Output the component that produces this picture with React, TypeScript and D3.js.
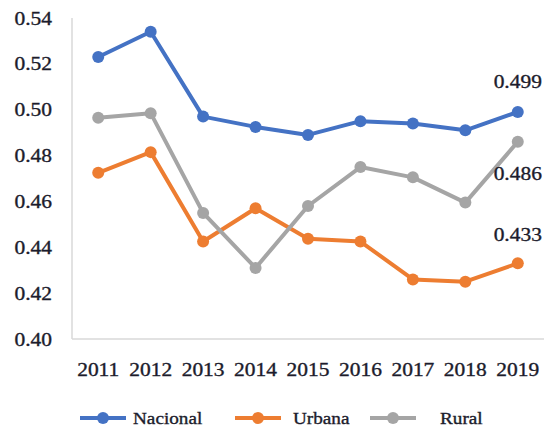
import React from 'react';
import * as d3 from 'd3';

const years = ['2011', '2012', '2013', '2014', '2015', '2016', '2017', '2018', '2019'];
const nacional = [0.523, 0.534, 0.497, 0.4925, 0.489, 0.495, 0.494, 0.491, 0.499];
const urbana = [0.4725, 0.4815, 0.4425, 0.457, 0.4437, 0.4425, 0.426, 0.425, 0.433];
const rural = [0.4965, 0.4985, 0.455, 0.431, 0.458, 0.475, 0.4705, 0.4595, 0.486];
const yTicks = [0.4, 0.42, 0.44, 0.46, 0.48, 0.5, 0.52, 0.54];

const series = [
  { name: 'Nacional', values: nacional, color: '#4472C4', label: '0.499', dy: -31 },
  { name: 'Urbana', values: urbana, color: '#ED7D31', label: '0.433', dy: -29 },
  { name: 'Rural', values: rural, color: '#A5A5A5', label: '0.486', dy: 32 },
];

const W = 544;
const H = 430;
const font = '"Liberation Serif", "Times New Roman", serif';
const textColor = '#1c1c2c';

const App = () => {
  const x = d3.scaleBand<string>().domain(years).range([72, 544]);
  const y = d3.scaleLinear().domain([0.4, 0.54]).range([339, 18]);
  const cx = (yr: string) => (x(yr) ?? 0) + x.bandwidth() / 2;
  const line = d3
    .line<number>()
    .x((_, i) => cx(years[i]))
    .y((d) => y(d));

  // reference text is a little wider than the font and looks heavier
  const stretched = (tx: number, ty: number, size: number, s: string, anchor = 'middle') => (
    <text
      transform={`translate(${tx},${ty}) scale(1.13,1)`}
      textAnchor={anchor}
      dominantBaseline="central"
      fontFamily={font}
      fontSize={size}
      fill={textColor}
      stroke={textColor}
      strokeWidth={0.35}
    >
      {s}
    </text>
  );

  const legend = [
    { x: 80, tx: 133 },
    { x: 235, tx: 293 },
    { x: 370, tx: 440 },
  ];

  return (
    <svg width={W} height={H} style={{ position: 'absolute', left: 0, top: 0, background: '#fff' }}>
      <line x1={72} x2={72} y1={18} y2={339} stroke="#d9d9d9" strokeWidth={1.5} />
      <line x1={72} x2={544} y1={339} y2={339} stroke="#d9d9d9" strokeWidth={1.5} />

      {yTicks.map((t) => (
        <g key={t}>{stretched(52, y(t), 19, d3.format('.2f')(t), 'end')}</g>
      ))}
      {years.map((yr) => (
        <g key={yr}>{stretched(cx(yr), 369, 19, yr)}</g>
      ))}

      {series.map((s) => (
        <g key={s.name}>
          <path d={line(s.values) ?? ''} fill="none" stroke={s.color} strokeWidth={4} strokeLinejoin="round" />
          {s.values.map((v, i) => (
            <circle key={i} cx={cx(years[i])} cy={y(v)} r={6} fill={s.color} />
          ))}
          {stretched(cx('2019'), y(s.values[s.values.length - 1]) + s.dy, 19, s.label)}
        </g>
      ))}

      {series.map((s, i) => (
        <g key={'lg' + s.name}>
          <line x1={legend[i].x} x2={legend[i].x + 46} y1={418} y2={418} stroke={s.color} strokeWidth={4} />
          <circle cx={legend[i].x + 23} cy={418} r={6} fill={s.color} />
          {stretched(legend[i].tx, 418, 17, s.name, 'start')}
        </g>
      ))}
    </svg>
  );
};

export default App;
